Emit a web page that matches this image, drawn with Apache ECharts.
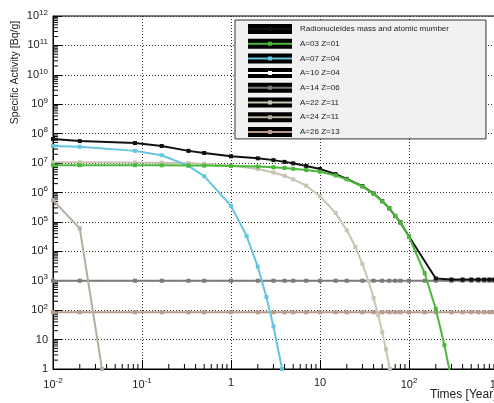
<!DOCTYPE html>
<html>
<head>
<meta charset="utf-8">
<script src="https://cdn.jsdelivr.net/npm/echarts@6/dist/echarts.min.js"></script>
<style>
  html, body { margin: 0; padding: 0; background: #fff; }
  #chart { width: 494px; height: 403px; }
</style>
</head>
<body>
<div id="chart"></div>
<script>
// data (time in years, activity in Bq/g)
const seriesNames = [
  'Radionucleides mass and atomic mumber',
  'A=03 Z=01',
  'A=07 Z=04',
  'A=10 Z=04',
  'A=14 Z=06',
  'A=22 Z=11',
  'A=24 Z=11',
  'A=26 Z=13'
];
const seriesColors = ['#111111', '#4cb83a', '#62c6de', '#ffffff', '#7a7a7a', '#c9c5b3', '#b7ae9f', '#b99a8c'];

const total = [
  [0.01, 6.6e7], [0.02, 5.6e7], [0.0833, 4.8e7], [0.1667, 3.8e7], [0.333, 2.6e7], [0.5, 2.2e7],
  [1, 1.7e7], [2, 1.45e7], [3, 1.26e7], [4, 1.1e7], [5, 9.8e6], [7, 8e6], [10, 6.3e6],
  [15, 4.2e6], [20, 2.9e6], [30, 1.65e6], [40, 9.2e5], [50, 5.1e5], [60, 2.9e5], [70, 1.6e5],
  [80, 9.6e4], [100, 3.2e4], [200, 1.2e3], [300, 1.1e3], [400, 1.1e3], [500, 1.1e3],
  [600, 1.1e3], [700, 1.1e3], [800, 1.1e3], [900, 1.1e3], [1000, 1.1e3]
];
const h3 = [
  [0.01, 8.5e6], [0.02, 8.5e6], [0.0833, 8.5e6], [0.1667, 8.4e6], [0.333, 8.3e6], [0.5, 8.2e6],
  [1, 8e6], [2, 7.6e6], [3, 7.2e6], [4, 6.8e6], [5, 6.4e6], [7, 5.8e6], [10, 5.1e6],
  [15, 3.8e6], [20, 2.8e6], [30, 1.6e6], [40, 9e5], [50, 5e5], [60, 2.9e5], [70, 1.6e5],
  [80, 9.5e4], [100, 3.1e4], [150, 1.8e3], [200, 1.1e2], [250, 6.5], [290, 0.7]
];
const be7 = [
  [0.01, 3.8e7], [0.02, 3.6e7], [0.0833, 2.6e7], [0.1667, 1.85e7], [0.333, 8e6], [0.5, 3.6e6],
  [1, 3.5e5], [1.5, 3.3e4], [2, 3e3], [2.5, 2.8e2], [3, 28], [3.75, 1]
];
const constTimes = [0.01, 0.02, 0.0833, 0.1667, 0.333, 0.5, 1, 2, 3, 4, 5, 7, 10, 15, 20, 30,
  40, 50, 60, 70, 80, 100, 150, 200, 300, 400, 500, 600, 700, 800, 900, 1000];
const be10 = [1e3, 1e3, 1e3, 1e3, 1e3, 1e3, 1e3, 1e3, 1e3, 1e3, 1e3, 1e3, 1e3, 1e3, 1e3, 1e3,
  1e3, 1e3, 1e3, 1e3, 1e3, 1e3, 1e3, 1e3, 1e3, 1e3, 1e3, 1e3, 1e3, 1e3, 1e3, 1e3];
const c14 = [1e3, 1e3, 1e3, 1e3, 1e3, 1e3, 1e3, 1e3, 1e3, 1e3, 1e3, 1e3, 1e3, 1e3, 1e3, 1e3,
  1e3, 1e3, 1e3, 1e3, 1e3, 1e3, 1e3, 1e3, 1e3, 1e3, 1e3, 1e3, 1e3, 1e3, 1e3, 1e3];
const al26 = [85, 85, 85, 85, 85, 85, 85, 85, 85, 85, 85, 85, 85, 85, 85, 85,
  85, 85, 85, 85, 85, 85, 85, 85, 85, 85, 85, 85, 85, 85, 85, 85];
const na22 = [
  [0.01, 1.07e7], [0.02, 1.07e7], [0.0833, 1.05e7], [0.1667, 1.03e7], [0.333, 1e7], [0.5, 9.4e6],
  [1, 8.2e6], [2, 6.3e6], [3, 4.8e6], [4, 3.7e6], [5, 2.8e6], [7, 1.7e6], [10, 7.5e5],
  [15, 2e5], [20, 5.2e4], [25, 1.4e4], [30, 3.7e3], [35, 9.8e2], [40, 2.6e2], [45, 69],
  [50, 18], [55, 4.7], [61, 1]
];
const na24 = [[0.01, 5.5e5], [0.02, 6e4], [0.0355, 1]];

const xTickText = ['10{s|-2}', '10{s|-1}', '1', '10', '10{s|2}', '10{s|3}'];
const yTickText = ['1', '10', '10{s|2}', '10{s|3}', '10{s|4}', '10{s|5}', '10{s|6}', '10{s|7}',
  '10{s|8}', '10{s|9}', '10{s|10}', '10{s|11}', '10{s|12}'];

// minor tick values 2..9 x 10^e for each decade
function minorTicks(from, to) {
  const out = [];
  for (let e = from; e < to; e++) {
    for (let k = 2; k <= 9; k++) out.push([+(k * Math.pow(10, e)).toPrecision(6)]);
  }
  return out;
}

const pairs = (times, vals) => times.map((t, i) => [t, vals[i]]);
const seriesData = [total, h3, be7, pairs(constTimes, be10), pairs(constTimes, c14), na22, na24, pairs(constTimes, al26)];

const chartDom = document.getElementById('chart');
const myChart = echarts.init(chartDom);

const font = 'Liberation Sans, Arial, sans-serif';
const rich = {
  s: { fontSize: 8, fontFamily: font, color: '#222', padding: [0, 0, 7, 0] }
};

// draw order: constants first, black total below green
const drawOrder = [3, 4, 7, 6, 5, 2, 0, 1];

const lineSeries = drawOrder.map((idx, z) => ({
  name: seriesNames[idx],
  type: 'line',
  data: seriesData[idx],
  z: 2 + z,
  symbol: 'rect',
  symbolSize: 4,
  showAllSymbol: true,
  clip: true,
  itemStyle: { color: seriesColors[idx] },
  lineStyle: { color: seriesColors[idx], width: 2 }
}));

// minor log ticks placed through the axes' own scales
const tickSeries = [
  {
    type: 'custom', silent: true, clip: false, z: 1,
    data: minorTicks(-2, 3),
    renderItem: (params, api) => {
      const p = api.coord([api.value(0), 1]);
      return { type: 'line', shape: { x1: p[0], y1: p[1], x2: p[0], y2: p[1] - 5 }, style: { stroke: '#000', lineWidth: 1 } };
    }
  },
  {
    type: 'custom', silent: true, clip: false, z: 1,
    data: minorTicks(0, 12).map(d => [0.01, d[0]]),
    encode: { x: 0, y: 1 },
    renderItem: (params, api) => {
      const p = api.coord([0.01, api.value(1)]);
      return { type: 'line', shape: { x1: p[0], y1: p[1], x2: p[0] + 5, y2: p[1] }, style: { stroke: '#000', lineWidth: 1 } };
    }
  }
];

const option = {
  animation: false,
  backgroundColor: '#fff',
  textStyle: { fontFamily: font },
  grid: {
    left: 53, top: 16, right: -4, bottom: 34,
    outerBoundsMode: 'none', containLabel: false,
    show: true, borderColor: '#000', borderWidth: 1
  },
  xAxis: {
    type: 'log', min: 0.01, max: 1000, interval: 1,
    name: 'Times [Year]', nameLocation: 'end', nameGap: -68, nameMoveOverlap: false,
    nameTextStyle: { fontSize: 12, color: '#222', align: 'left', verticalAlign: 'top', padding: [20, 0, 0, 0] },
    axisLine: { lineStyle: { color: '#000' } },
    axisTick: { inside: true, length: 9, lineStyle: { color: '#000' } },
    axisLabel: {
      fontSize: 11, color: '#222', margin: 8,
      formatter: v => xTickText[Math.round(Math.log10(v)) + 2], rich
    },
    splitLine: { show: true, lineStyle: { color: '#333', type: [1, 2], width: 1 } }
  },
  yAxis: {
    type: 'log', min: 1, max: 1e12, interval: 1,
    name: 'Specific Activity [Bq/g]', nameLocation: 'middle', nameGap: 32, nameMoveOverlap: false,
    nameTextStyle: { fontSize: 10.5, color: '#222', padding: [0, 0, 0, 240] },
    axisLine: { lineStyle: { color: '#000' } },
    axisTick: { inside: true, length: 9, lineStyle: { color: '#000' } },
    axisLabel: {
      fontSize: 11, color: '#222', margin: 5,
      formatter: v => yTickText[Math.round(Math.log10(v))], rich
    },
    splitLine: { show: true, lineStyle: { color: '#333', type: [1, 2], width: 1 } }
  },
  legend: [
    {
      orient: 'vertical', left: 235, top: 20, align: 'left',
      padding: [4, 37, 2, 13], itemWidth: 44, itemHeight: 10, itemGap: 4.7,
      icon: 'rect', itemStyle: { color: '#000', borderWidth: 0 },
      textStyle: { fontSize: 8, color: '#222', padding: [0, 0, 0, 3] },
      backgroundColor: '#f1f1f1', borderColor: '#333', borderWidth: 1,
      data: seriesNames
    },
    {
      orient: 'vertical', left: 235, top: 20, align: 'left',
      padding: [4, 37, 2, 13], itemWidth: 44, itemHeight: 10, itemGap: 4.7,
      icon: 'path://M0,0M44,10M0,4h44v2H0zM20,3h4v4h-4z', itemStyle: { borderWidth: 0 },
      textStyle: { fontSize: 8, color: 'rgba(0,0,0,0)', padding: [0, 0, 0, 3] },
      data: seriesNames
    }
  ],
  series: tickSeries.concat(lineSeries)
};

option && myChart.setOption(option);
</script>
</body>
</html>
